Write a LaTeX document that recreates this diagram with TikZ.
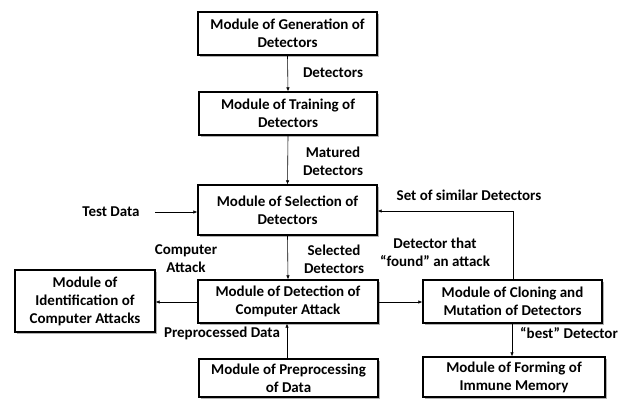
\documentclass[tikz,border=0pt]{standalone}
\usepackage{fontspec}
\setmainfont{Carlito}
\usetikzlibrary{arrows.meta,shadows}
\begin{document}
\begin{tikzpicture}[x=1pt,y=-1pt,
  box/.style={draw=black,line width=1.3pt,fill=white,align=center,inner sep=0pt,
    font=\fontsize{15}{18}\selectfont\bfseries,
    drop shadow={shadow xshift=1.5pt,shadow yshift=-1.5pt,fill=gray!60,opacity=1}},
  lbl/.style={align=center,font=\fontsize{15}{18}\selectfont\bfseries},
  conn/.style={line width=0.6pt,-{Latex[length=4pt,width=3.5pt]}}]
\useasboundingbox (0,0) rectangle (628,405);
\node[box,minimum width=179pt,minimum height=43pt] (gen) at (287.5,33.5) {Module of Generation of\\Detectors};
\node[box,minimum width=178pt,minimum height=43pt] (train) at (288,113.5) {Module of Training of\\Detectors};
\node[box,minimum width=179pt,minimum height=50pt] (sel) at (287.5,210) {Module of Selection of\\Detectors};
\node[box,minimum width=180pt,minimum height=43pt] (det) at (288,301.5) {Module of Detection of\\Computer Attack};
\node[box,minimum width=140pt,minimum height=62pt] (ident) at (85,301) {Module of\\Identification of\\Computer Attacks};
\node[box,minimum width=179pt,minimum height=43pt] (clone) at (512.5,301.5) {Module of Cloning and\\Mutation of Detectors};
\node[box,minimum width=179pt,minimum height=38pt] (pre) at (288.5,378) {Module of Preprocessing\\of Data};
\node[box,minimum width=182pt,minimum height=40pt] (imm) at (514,377) {Module of Forming of\\Immune Memory};
\node[lbl] (td) at (111,212) {Test Data};
\coordinate (tdend) at (155,212);
\coordinate (corner) at (513,211);
\draw[conn] (gen.south) -- (train.north);
\draw[conn] (train.south) -- (sel.north);
\draw[conn] (sel.south) -- (det.north);
\draw[conn] (tdend) -- (sel.west |- tdend);
\draw[conn] (det.west |- 0,302) -- (ident.east |- 0,302);
\draw[conn] (det.east |- 0,302) -- (clone.west |- 0,302);
\draw[conn] (clone.north -| corner) -- (corner) -- (sel.east |- corner);
\draw[conn] (pre.north -| 287,0) -- (det.south -| 287,0);
\draw[conn] (clone.south -| 512,0) -- (imm.north -| 512,0);
\node[lbl] (l1) at (333,73) {Detectors};
\node[lbl] (l2) at (333,161) {Matured\\Detectors};
\node[lbl] (l3) at (186,259) {Computer\\Attack};
\node[lbl] (l4) at (334,259) {Selected\\Detectors};
\node[lbl] (l5) at (469,195) {Set of similar Detectors};
\node[lbl] (l6) at (435,252) {Detector that\\“found” an attack};
\node[lbl] (l7) at (222,333) {Preprocessed Data};
\node[lbl] (l8) at (569,333) {“best” Detector};
\end{tikzpicture}
\end{document}
